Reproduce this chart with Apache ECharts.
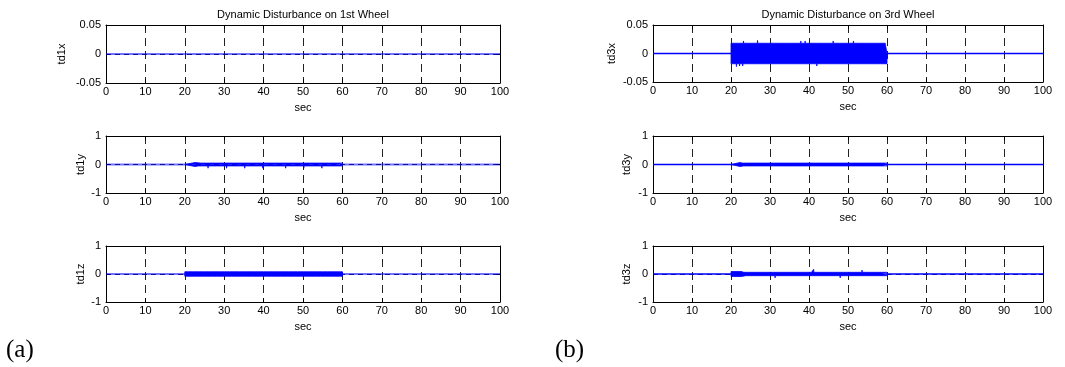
<!DOCTYPE html>
<html>
<head>
<meta charset="utf-8">
<script src="https://cdn.jsdelivr.net/npm/echarts@6/dist/echarts.min.js"></script>
<style>
html,body{margin:0;padding:0;background:#fff;}
#chart{width:1065px;height:367px;}
</style>
</head>
<body>
<div id="chart"></div>
<script>
// ---------- data ----------
const secTicks = [0, 10, 20, 30, 40, 50, 60, 70, 80, 90, 100];
const quietT = [0, 100];
const quietV = [0, 0];
const burst = [20, 60];

const titles = ['Dynamic Disturbance on 1st Wheel', 'Dynamic Disturbance on 3rd Wheel'];
const yNames = ['td1x', 'td1y', 'td1z', 'td3x', 'td3y', 'td3z'];
const yLimits = [[-0.05, 0.05, 0.05], [-1, 1, 1], [-1, 1, 1], [-0.05, 0.05, 0.05], [-1, 1, 1], [-1, 1, 1]];

// td1x: stays at zero
const td1xT = [0, 100];
const td1xV = [0, 0];

// td1y
const td1ySolid = [22.6, 0.07];
const td1yCore = 0.05;
const td1yUpT = [23.0, 24.1, 25.5, 26.4, 27.8, 28.7, 30.1, 31.0, 32.4, 33.6, 34.5, 35.9, 37.0, 38.2, 39.1, 40.5, 41.6, 42.6, 43.9, 45.1, 46.0, 47.4, 48.3, 49.7, 50.6, 52.0, 53.1, 54.0, 55.4, 56.5, 57.5, 58.8];
const td1yUpV = [0.09, 0.10, 0.09, 0.11, 0.10, 0.09, 0.11, 0.10, 0.09, 0.10, 0.11, 0.09, 0.10, 0.11, 0.09, 0.10, 0.10, 0.09, 0.11, 0.10, 0.09, 0.10, 0.11, 0.09, 0.10, 0.09, 0.11, 0.10, 0.09, 0.10, 0.11, 0.09];
const td1yDnT = [23.5, 24.7, 25.9, 27.1, 28.2, 29.4, 30.6, 31.7, 32.9, 34.0, 35.2, 36.4, 37.5, 38.7, 39.8, 41.0, 42.1, 43.3, 44.5, 45.6, 46.8, 47.9, 49.1, 50.2, 51.4, 52.5, 53.6, 54.8, 55.9, 57.0, 58.2, 59.4];
const td1yDnV = [-0.12, -0.11, -0.13, -0.12, -0.11, -0.12, -0.13, -0.11, -0.12, -0.11, -0.13, -0.12, -0.11, -0.12, -0.13, -0.11, -0.12, -0.11, -0.12, -0.13, -0.11, -0.12, -0.11, -0.13, -0.12, -0.11, -0.12, -0.13, -0.11, -0.12, -0.11, -0.12];

// td1z
const td1zSolid = [60, 0.08];
const td1zCore = 0.08;
const td1zUpT = [22.1, 23.6, 24.8, 26.3, 27.2, 28.9, 30.2, 31.4, 32.8, 33.9, 35.3, 36.1, 37.7, 38.9, 40.0, 41.3, 42.5, 43.8, 45.0, 46.4, 47.5, 48.6, 50.1, 51.2, 52.6, 53.8, 55.0, 56.3, 57.4, 58.7];
const td1zUpV = [0.12, 0.14, 0.13, 0.15, 0.12, 0.14, 0.13, 0.12, 0.14, 0.13, 0.15, 0.12, 0.14, 0.15, 0.13, 0.12, 0.14, 0.13, 0.12, 0.14, 0.13, 0.12, 0.15, 0.13, 0.12, 0.14, 0.13, 0.12, 0.14, 0.13];
const td1zDnT = [22.7, 24.2, 25.6, 26.8, 28.1, 29.5, 30.8, 32.0, 33.3, 34.7, 35.8, 37.2, 38.4, 39.5, 40.8, 42.0, 43.2, 44.4, 45.8, 47.0, 48.2, 49.4, 50.7, 51.8, 53.2, 54.5, 55.7, 56.9, 58.1, 59.3];
const td1zDnV = [-0.12, -0.13, -0.12, -0.14, -0.13, -0.12, -0.13, -0.14, -0.12, -0.13, -0.12, -0.14, -0.13, -0.12, -0.13, -0.12, -0.14, -0.13, -0.12, -0.13, -0.14, -0.12, -0.13, -0.12, -0.13, -0.14, -0.12, -0.13, -0.12, -0.13];

// td3x
const td3xSolid = [60, 0.018];
const td3xCore = 0.018;
const td3xUpT = [21.0, 22.3, 23.2, 24.9, 26.8, 27.3, 29.6, 31.2, 32.6, 34.3, 36.0, 37.9, 39.0, 40.3, 42.0, 43.5, 45.0, 46.2, 47.9, 49.2, 51.4, 53.1, 54.4, 55.6, 57.0, 58.2, 59.6];
const td3xUpV = [0.020, 0.021, 0.022, 0.021, 0.023, 0.020, 0.021, 0.020, 0.021, 0.021, 0.020, 0.022, 0.022, 0.021, 0.021, 0.020, 0.021, 0.022, 0.021, 0.021, 0.022, 0.020, 0.021, 0.021, 0.020, 0.021, 0.020];
const td3xDnT = [20.6, 21.4, 22.2, 23.0, 24.5, 26.2, 28.0, 30.0, 33.1, 35.1, 38.5, 40.3, 42.0, 43.6, 45.8, 48.5, 51.3, 53.0, 56.0, 58.4];
const td3xDnV = [-0.021, -0.023, -0.022, -0.022, -0.020, -0.020, -0.020, -0.020, -0.020, -0.021, -0.021, -0.020, -0.022, -0.021, -0.020, -0.020, -0.021, -0.020, -0.020, -0.020];

// td3y
const td3ySolid = [22.3, 0.07];
const td3yCore = 0.05;
const td3yUpT = [22.8, 24.0, 25.3, 26.5, 27.9, 29.0, 30.4, 31.5, 32.9, 34.1, 35.4, 36.6, 37.8, 39.1, 40.3, 41.6, 42.8, 44.0, 45.3, 46.5, 47.8, 49.0, 50.3, 51.5, 52.8, 54.0, 55.2, 56.5, 57.7, 58.9];
const td3yUpV = [0.10, 0.09, 0.11, 0.10, 0.09, 0.11, 0.10, 0.09, 0.10, 0.11, 0.09, 0.10, 0.11, 0.09, 0.10, 0.09, 0.11, 0.10, 0.09, 0.10, 0.11, 0.09, 0.10, 0.09, 0.11, 0.10, 0.09, 0.10, 0.11, 0.09];
const td3yDnT = [23.3, 24.6, 25.8, 27.1, 28.4, 29.6, 30.9, 32.1, 33.4, 34.7, 35.9, 37.2, 38.4, 39.7, 40.9, 42.2, 43.4, 44.7, 45.9, 47.2, 48.4, 49.6, 50.9, 52.1, 53.4, 54.6, 55.9, 57.1, 58.3, 59.5];
const td3yDnV = [-0.10, -0.11, -0.10, -0.09, -0.11, -0.10, -0.09, -0.11, -0.10, -0.10, -0.11, -0.09, -0.10, -0.11, -0.10, -0.09, -0.11, -0.10, -0.10, -0.11, -0.09, -0.10, -0.11, -0.10, -0.09, -0.11, -0.10, -0.10, -0.11, -0.09];

// td3z
const td3zSolid = [22.7, 0.09];
const td3zCore = 0.06;
const td3zUpT = [23.2, 24.4, 25.7, 26.9, 28.2, 29.5, 30.7, 32.0, 33.2, 34.5, 35.7, 37.0, 38.2, 39.5, 40.7, 41.2, 42.4, 43.6, 44.9, 46.1, 47.4, 48.6, 49.9, 51.1, 52.4, 53.6, 54.9, 56.1, 57.4, 58.6];
const td3zUpV = [0.12, 0.11, 0.13, 0.12, 0.11, 0.12, 0.13, 0.11, 0.12, 0.13, 0.12, 0.11, 0.12, 0.13, 0.12, 0.17, 0.12, 0.11, 0.13, 0.12, 0.11, 0.12, 0.13, 0.11, 0.12, 0.14, 0.12, 0.11, 0.12, 0.13];
const td3zDnT = [23.8, 25.0, 26.3, 27.5, 28.8, 30.1, 31.3, 32.6, 33.8, 35.1, 36.3, 37.6, 38.8, 40.1, 41.8, 43.0, 44.3, 45.5, 46.8, 48.0, 49.3, 50.5, 51.8, 53.0, 54.3, 55.5, 56.8, 58.0, 59.3];
const td3zDnV = [-0.12, -0.13, -0.12, -0.11, -0.13, -0.12, -0.14, -0.12, -0.11, -0.13, -0.12, -0.13, -0.11, -0.12, -0.13, -0.12, -0.11, -0.13, -0.12, -0.14, -0.12, -0.11, -0.13, -0.12, -0.13, -0.11, -0.12, -0.13, -0.12];

// ---------- helpers ----------
function envelope(solid, core, spT, spV, sign) {
  const start = burst[0], end = burst[1];
  const sl = sign * solid[1], cl = sign * core;
  const pts = [[start, 0], [start, sl]];
  let level = sl;
  if (solid[0] < end) { pts.push([solid[0], sl], [solid[0], cl]); level = cl; }
  spT.forEach((t, i) => { pts.push([t - 0.06, level], [t, spV[i]], [t + 0.06, level]); });
  pts.push([end, level], [end, 0]);
  return pts;
}
function zip(a, b) { return a.map((v, i) => [v, b[i]]); }

const signals = [
  null,
  [td1ySolid, td1yCore, td1yUpT, td1yUpV, td1yDnT, td1yDnV],
  [td1zSolid, td1zCore, td1zUpT, td1zUpV, td1zDnT, td1zDnV],
  [td3xSolid, td3xCore, td3xUpT, td3xUpV, td3xDnT, td3xDnV],
  [td3ySolid, td3yCore, td3yUpT, td3yUpV, td3yDnT, td3yDnV],
  [td3zSolid, td3zCore, td3zUpT, td3zUpV, td3zDnT, td3zDnV]
];

// ---------- layout ----------
const gridBoxes = [
  {left: 106, top: 25, width: 394, height: 58},
  {left: 106, top: 136, width: 394, height: 57},
  {left: 106, top: 246, width: 394, height: 56},
  {left: 653, top: 25, width: 390, height: 57},
  {left: 653, top: 136, width: 390, height: 57},
  {left: 653, top: 246, width: 390, height: 56}
];
const nameGaps = [38.5, 20, 19.5, 35.5, 20.5, 20.5];
const FONT = 'Arial, "Liberation Sans", sans-serif';
const BLUE = '#0000ff';

const grid = [], xAxis = [], yAxis = [], series = [];
gridBoxes.forEach((g, i) => {
  grid.push(Object.assign({containLabel: false, show: false}, g));
  const lim = yLimits[i];
  const axLine = {show: true, onZero: false, lineStyle: {color: '#000', width: 1}};
  const tick = {show: true, inside: true, length: 4, lineStyle: {color: '#000'}};
  xAxis.push({
    gridIndex: i, type: 'value', position: 'bottom', min: secTicks[0], max: secTicks[secTicks.length - 1], interval: secTicks[1] - secTicks[0],
    axisLine: axLine, axisTick: tick,
    axisLabel: {color: '#000', fontSize: 11, fontFamily: FONT, margin: 3, showMinLabel: true, showMaxLabel: true},
    splitLine: {show: true, lineStyle: {color: '#222', width: 1, type: [8, 5]}},
    name: 'sec', nameLocation: 'middle', nameGap: 19,
    nameTextStyle: {color: '#000', fontSize: 11, fontFamily: FONT}
  });
  xAxis.push({
    gridIndex: i, type: 'value', position: 'top', min: secTicks[0], max: secTicks[secTicks.length - 1], interval: secTicks[1] - secTicks[0],
    axisLine: axLine, axisTick: tick, axisLabel: {show: false}, splitLine: {show: false}
  });
  yAxis.push({
    gridIndex: i, type: 'value', position: 'left', min: lim[0], max: lim[1], interval: lim[2],
    axisLine: axLine, axisTick: tick,
    axisLabel: {color: '#000', fontSize: 11, fontFamily: FONT, margin: 5},
    splitLine: {show: true, lineStyle: {color: '#222', width: 1, type: [5, 4]}},
    name: yNames[i], nameLocation: 'middle', nameGap: nameGaps[i], nameRotate: 90,
    nameTextStyle: {color: '#000', fontSize: 11, fontFamily: FONT}
  });
  yAxis.push({
    gridIndex: i, type: 'value', position: 'right', min: lim[0], max: lim[1], interval: lim[2],
    axisLine: axLine, axisTick: tick, axisLabel: {show: false}, splitLine: {show: false}
  });

  const leftCol = i < 3;
  const baseColor = leftCol ? 'rgba(0,0,255,0.55)' : BLUE;
  const baseWidth = leftCol ? 2 : 1.4;
  const sig = signals[i];
  if (sig) {
    [[sig[2], sig[3], 1], [sig[4], sig[5], -1]].forEach(([t, v, s]) => {
      series.push({
        type: 'line', xAxisIndex: 2 * i, yAxisIndex: 2 * i, showSymbol: false, symbol: 'none', z: 5,
        data: envelope(sig[0], sig[1], t, v, s),
        lineStyle: {color: BLUE, width: 0.8},
        areaStyle: {color: BLUE, opacity: 1, origin: 0}
      });
    });
  }
  series.push({
    type: 'line', xAxisIndex: 2 * i, yAxisIndex: 2 * i, showSymbol: false, symbol: 'none', z: 4,
    data: i === 0 ? zip(td1xT, td1xV) : zip(quietT, quietV),
    lineStyle: {color: baseColor, width: baseWidth}
  });
});

const option = {
  animation: false,
  backgroundColor: '#fff',
  title: [
    {text: titles[0], left: 303, top: 9, textAlign: 'center', padding: 0,
     textStyle: {color: '#000', fontSize: 11, fontWeight: 'normal', fontFamily: FONT}},
    {text: titles[1], left: 848, top: 9, textAlign: 'center', padding: 0,
     textStyle: {color: '#000', fontSize: 11, fontWeight: 'normal', fontFamily: FONT}},
    {text: '(a)', left: 6, top: 338, padding: 0,
     textStyle: {color: '#000', fontSize: 25, fontWeight: 'normal', fontFamily: '"Liberation Serif", "Times New Roman", serif'}},
    {text: '(b)', left: 555, top: 338, padding: 0,
     textStyle: {color: '#000', fontSize: 25, fontWeight: 'normal', fontFamily: '"Liberation Serif", "Times New Roman", serif'}}
  ],
  grid: grid,
  xAxis: xAxis,
  yAxis: yAxis,
  series: series
};

const chart = echarts.init(document.getElementById('chart'), null, {renderer: 'canvas'});
chart.setOption(option);
</script>
</body>
</html>
